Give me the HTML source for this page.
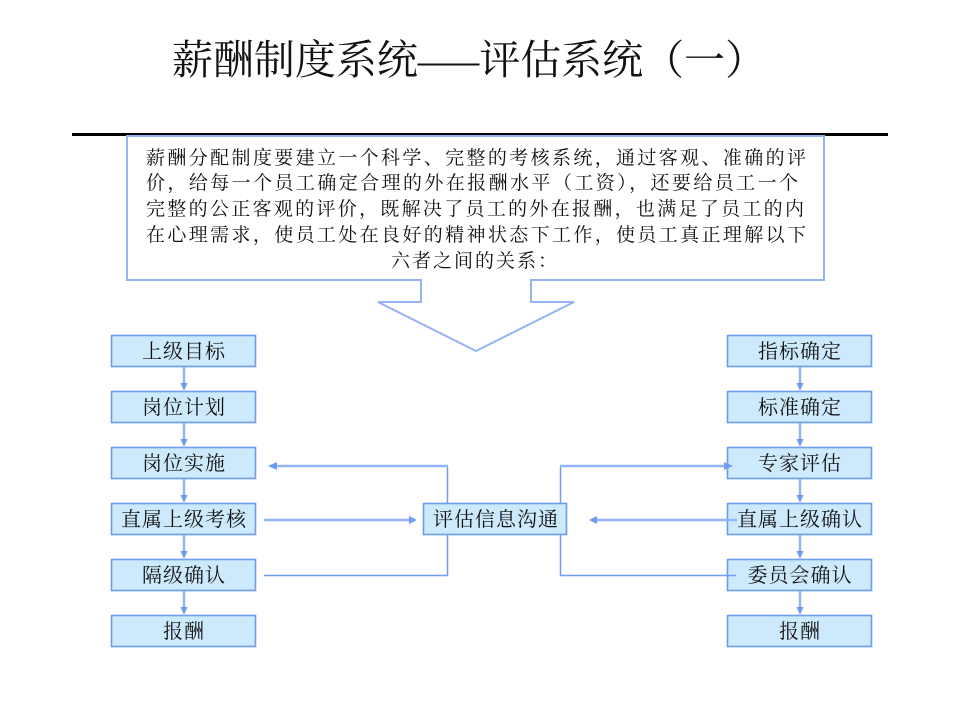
<!DOCTYPE html>
<html>
<head>
<meta charset="utf-8">
<style>
  html, body { margin:0; padding:0; background:#ffffff; }
  body { width:960px; height:720px; overflow:hidden; position:relative; }
  svg { position:absolute; left:0; top:0; }
  .t { font-family: "Liberation Serif", "Noto Serif CJK SC", serif; fill:#111; }
</style>
</head>
<body>
<svg width="960" height="720" viewBox="0 0 960 720" xmlns="http://www.w3.org/2000/svg">
  <!-- Title -->
  <text class="t" x="172" y="74" font-size="41" textLength="594" lengthAdjust="spacing">薪酬制度系统–––评估系统（一）</text>

  <!-- black rule -->
  <rect x="72" y="133" width="816" height="3" fill="#000"/>

  <!-- callout -->
  <polygon points="127,136 824,136 824,280 531,280 531,302 574,302 476,351 378,302 421,302 421,280 127,280"
           fill="#ffffff" stroke="#94b4f2" stroke-width="2"/>

  <!-- callout text -->
  <g class="t" font-size="19">
    <text x="146" y="164" textLength="660" lengthAdjust="spacing">薪酬分配制度要建立一个科学、完整的考核系统，通过客观、准确的评</text>
    <text x="146" y="189" textLength="652" lengthAdjust="spacing">价，给每一个员工确定合理的外在报酬水平（工资），还要给员工一个</text>
    <text x="146" y="215" textLength="658" lengthAdjust="spacing">完整的公正客观的评价，既解决了员工的外在报酬，也满足了员工的内</text>
    <text x="146" y="241" textLength="660" lengthAdjust="spacing">在心理需求，使员工处在良好的精神状态下工作，使员工真正理解以下</text>
    <text x="391" y="267" textLength="166" lengthAdjust="spacing">六者之间的关系：</text>
  </g>

  <!-- vertical connectors left -->
  <g stroke="#94b6f6" stroke-width="2.5">
    <line x1="184" y1="367" x2="184" y2="384"/>
    <line x1="184" y1="423" x2="184" y2="440"/>
    <line x1="184" y1="479" x2="184" y2="496"/>
    <line x1="184" y1="535" x2="184" y2="552"/>
    <line x1="184" y1="591" x2="184" y2="608"/>
    <line x1="800" y1="367" x2="800" y2="384"/>
    <line x1="800" y1="423" x2="800" y2="440"/>
    <line x1="800" y1="479" x2="800" y2="496"/>
    <line x1="800" y1="535" x2="800" y2="552"/>
    <line x1="800" y1="591" x2="800" y2="608"/>
  </g>
  <g fill="#6f9cf2">
    <polygon points="180.5,383 187.5,383 184,391"/>
    <polygon points="180.5,439 187.5,439 184,447"/>
    <polygon points="180.5,495 187.5,495 184,503"/>
    <polygon points="180.5,551 187.5,551 184,559"/>
    <polygon points="180.5,607 187.5,607 184,615"/>
    <polygon points="796.5,383 803.5,383 800,391"/>
    <polygon points="796.5,439 803.5,439 800,447"/>
    <polygon points="796.5,495 803.5,495 800,503"/>
    <polygon points="796.5,551 803.5,551 800,559"/>
    <polygon points="796.5,607 803.5,607 800,615"/>
  </g>

  <!-- boxes -->
  <g fill="#cdeafd" stroke="#6c9cee" stroke-width="1.6">
    <rect x="111.5" y="335.5" width="144" height="31"/>
    <rect x="111.5" y="391.5" width="144" height="31"/>
    <rect x="111.5" y="447.5" width="144" height="31"/>
    <rect x="111.5" y="503.5" width="144" height="31"/>
    <rect x="111.5" y="559.5" width="144" height="31"/>
    <rect x="111.5" y="615.5" width="144" height="31"/>
    <rect x="727.5" y="335.5" width="144" height="31"/>
    <rect x="727.5" y="391.5" width="144" height="31"/>
    <rect x="727.5" y="447.5" width="144" height="31"/>
    <rect x="727.5" y="503.5" width="144" height="31"/>
    <rect x="727.5" y="559.5" width="144" height="31"/>
    <rect x="727.5" y="615.5" width="144" height="31"/>
    <rect x="423.5" y="503.5" width="143" height="31"/>
  </g>

  <!-- side connectors (thin) -->
  <g fill="none" stroke="#6e9cf0" stroke-width="1.5">
    <polyline points="447.5,503 447.5,466"/>
    <polyline points="264,575.5 447.5,575.5 447.5,535"/>
    <polyline points="560.5,503 560.5,466"/>
    <polyline points="560.5,535 560.5,575.5 736,575.5"/>
  </g>
  <!-- side connectors (thick light) -->
  <g stroke="#94b6f6" stroke-width="2.5">
    <line x1="448" y1="466" x2="276" y2="466"/>
    <line x1="264" y1="520" x2="410" y2="520"/>
    <line x1="560" y1="466" x2="725" y2="466"/>
    <line x1="737" y1="520" x2="597" y2="520"/>
  </g>
  <g fill="#6f9cf2">
    <polygon points="268,466 277,462 277,470"/>
    <polygon points="417,520 409,516 409,524"/>
    <polygon points="733,466 724,462 724,470"/>
    <polygon points="589,520 597,516 597,524"/>
  </g>

  <!-- box labels -->
  <g class="t" font-size="20" text-anchor="middle" letter-spacing="1">
    <text x="184" y="358">上级目标</text>
    <text x="184" y="414">岗位计划</text>
    <text x="184" y="470">岗位实施</text>
    <text x="184" y="526">直属上级考核</text>
    <text x="184" y="582">隔级确认</text>
    <text x="184" y="638">报酬</text>
    <text x="800" y="358">指标确定</text>
    <text x="800" y="414">标准确定</text>
    <text x="800" y="470">专家评估</text>
    <text x="800" y="526">直属上级确认</text>
    <text x="800" y="582">委员会确认</text>
    <text x="800" y="638">报酬</text>
    <text x="496" y="526">评估信息沟通</text>
  </g>
</svg>
</body>
</html>
